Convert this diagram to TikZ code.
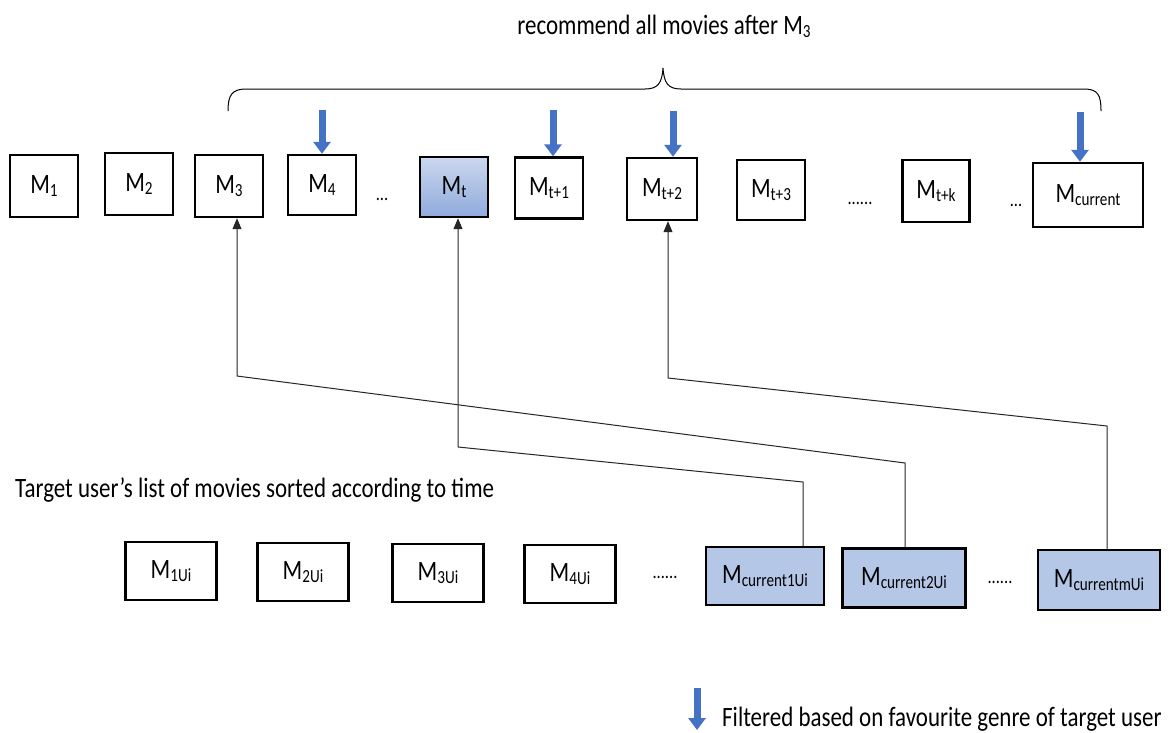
\documentclass[tikz,border=0pt]{standalone}
\usepackage{fontspec}
\setmainfont[FakeStretch=0.82]{Carlito}
\usetikzlibrary{arrows.meta,calc}
\definecolor{filterblue}{HTML}{4472C4}
\definecolor{paleblue}{HTML}{B4C7E7}
\definecolor{deepblue}{HTML}{8FAADC}
\tikzset{
  movie/.style={draw=black, line width=2.4pt, rectangle, inner sep=0pt,
    font=\fontsize{28}{30}\selectfont},
  picked/.style={movie, fill=paleblue},
  current/.style={movie, top color=paleblue!70!white, bottom color=deepblue},
  dots/.style={font=\fontsize{20}{22}\selectfont, inner sep=0pt},
  label/.style={font=\fontsize{28}{32}\selectfont, inner sep=0pt},
  conn/.style={draw=black!85, line width=1pt},
  link/.style={conn, -{Triangle[width=9pt,length=11pt]}},
  filter/.style={draw=filterblue, line width=7pt,
    -{Triangle[width=17pt,length=12pt]}},
}
% movie symbol with a Word-style subscript
\newcommand{\mv}[1]{M\raisebox{-3.5pt}{\fontsize{18.5}{19}\selectfont #1}}
\begin{document}
\begin{tikzpicture}[x=1pt,y=-1pt]
\useasboundingbox[fill=white] (0,0) rectangle (1169,732);

% upper row: all movies in time order
\node[movie, minimum width=68, minimum height=62] (m1) at (44,186) {\mv{1}};
\node[movie, minimum width=68, minimum height=62] (m2) at (139,184) {\mv{2}};
\node[movie, minimum width=68, minimum height=62] (m3) at (229,186) {\mv{3}};
\node[movie, minimum width=68, minimum height=60] (m4) at (322,185) {\mv{4}};
\node[dots] (d1) at (382,199) {...};
\node[current, minimum width=68, minimum height=60] (mt) at (454,187) {\mv{t}};
\node[movie, minimum width=68, minimum height=61] (mt1) at (549,188) {\mv{t+1}};
\node[movie, minimum width=70, minimum height=62] (mt2) at (662,189) {\mv{t+2}};
\node[movie, minimum width=68, minimum height=60] (mt3) at (771,190) {\mv{t+3}};
\node[dots] (d2) at (860,203) {......};
\node[movie, minimum width=67, minimum height=62] (mtk) at (936,191) {\mv{t+k}};
\node[dots] (d3) at (1016,205) {...};
\node[movie, minimum width=110, minimum height=64] (mcur) at (1088,195) {\mv{current}};

% brace over the recommended range
\draw[line width=1pt] (228,111) .. controls (228,95) and (232,89) .. (246,89)
  -- (645,89) .. controls (658,89) and (662,83) .. (663,68)
  .. controls (664,83) and (668,89) .. (681,89)
  -- (1084,89) .. controls (1098,89) and (1101,95) .. (1101,111);
\node[label, anchor=base] (title) at (664,34) {recommend all movies after \mv{3}};

% genre filter marks
\coordinate (f4) at (322,110);
\coordinate (f5) at (553,110);
\coordinate (f6) at (673,111);
\coordinate (f7) at (1080,112);
\draw[filter] (f4) -- (f4 |- m4.north);
\draw[filter] (f5) -- (f5 |- mt1.north);
\draw[filter] (f6) -- (f6 |- mt2.north);
\draw[filter] (f7) -- (f7 |- mcur.north);

% lower row: the target user's own history
\node[label, anchor=base west] (caption) at (15,497) {Target user’s list of movies sorted according to time};
\node[movie, minimum width=91, minimum height=58] (u1) at (171,571) {\mv{1Ui}};
\node[movie, minimum width=91, minimum height=58] (u2) at (303,572) {\mv{2Ui}};
\node[movie, minimum width=91, minimum height=58] (u3) at (438,573) {\mv{3Ui}};
\node[movie, minimum width=91, minimum height=58] (u4) at (570,574) {\mv{4Ui}};
\node[dots] (d4) at (665,577) {......};
\node[picked, minimum width=118, minimum height=58] (c1) at (765,576) {\mv{current1Ui}};
\node[picked, minimum width=123, minimum height=59] (c2) at (904,578) {\mv{current2Ui}};
\node[dots] (d5) at (1000,582) {......};
\node[picked, minimum width=122, minimum height=60] (cm) at (1099,580) {\mv{currentmUi}};

% matches back into the upper row
\coordinate (a1) at (803,482);
\coordinate (b1) at (458,447);
\draw[link] ([xshift=38]c1.north) -- (a1) -- (b1) -- (b1 |- mt.south);
\coordinate (a2) at (905,463);
\coordinate (b2) at (237,376);
\draw[link] ([xshift=1]c2.north) -- (a2) -- (b2) -- (b2 |- m3.south);
\coordinate (a3) at (1107,426);
\coordinate (b3) at (668,378);
\draw[link] ([xshift=8]cm.north) -- (a3) -- (b3) -- (b3 |- mt2.south);

% legend
\coordinate (lg) at (697,688);
\draw[filter] (lg) -- ++(0,42);
\node[label, anchor=base west] (legend) at (722,726) {Filtered based on favourite genre of target user};
\end{tikzpicture}
\end{document}
